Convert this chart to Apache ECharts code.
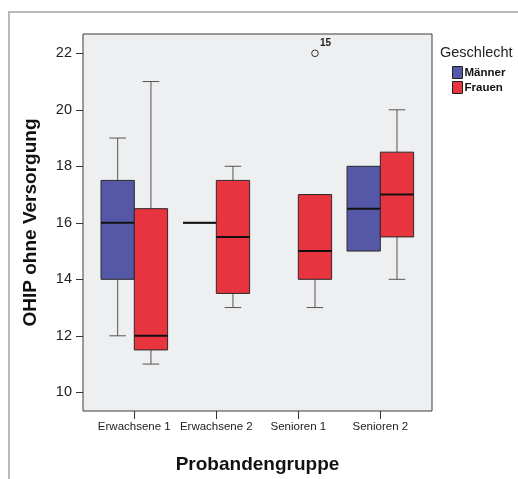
<!DOCTYPE html>
<html>
<head>
<meta charset="utf-8">
<script src="https://cdn.jsdelivr.net/npm/echarts@6/dist/echarts.min.js"></script>
<style>
  html, body { margin: 0; padding: 0; background: #fff; }
  #chart { width: 518px; height: 479px; }
</style>
</head>
<body>
<div id="chart"></div>
<script>
const categories = ["Erwachsene 1", "Erwachsene 2", "Senioren 1", "Senioren 2"];
const categoryIndex = [0, 1, 2, 3];
const yTicks = [10, 12, 14, 16, 18, 20, 22];

// [category index, min, Q1, median, Q3, max]
const maennerBoxes = [
  [0, 12, 14, 16, 17.5, 19],
  [1, 16, 16, 16, 16, 16],
  [3, 15, 15, 16.5, 18, 18],
];
const frauenBoxes = [
  [0, 11, 11.5, 12, 16.5, 21],
  [1, 13, 13.5, 15.5, 17.5, 18],
  [2, 13, 14, 15, 17, 17],
  [3, 14, 15.5, 17, 18.5, 20],
];
// [category index, value] + case number
const frauenOutliers = [[2, 22]];
const frauenOutlierCases = ["15"];

const BLUE = "#5558a6";
const RED = "#e7343e";
const FONT = "'Liberation Sans', Arial, sans-serif";

// side: -1 links (Männer), +1 rechts (Frauen)
function boxRenderer(side, fill) {
  return function (params, api) {
    const cat = api.value(0);
    const band = api.size([1, 0])[0];
    const w = band * 0.406;
    const cx = api.coord([cat, 0])[0] + side * w / 2;
    const y = (i) => api.coord([cat, api.value(i)])[1];
    const yMin = y(1), yQ1 = y(2), yMed = y(3), yQ3 = y(4), yMax = y(5);
    const whisker = { stroke: "#555", lineWidth: 1 };
    const children = [];
    if (yQ3 - yMax > 0.5) {
      children.push({ type: "line", shape: { x1: cx, y1: yMax, x2: cx, y2: yQ3 }, style: whisker });
      children.push({ type: "line", shape: { x1: cx - w / 4, y1: yMax, x2: cx + w / 4, y2: yMax }, style: whisker });
    }
    if (yMin - yQ1 > 0.5) {
      children.push({ type: "line", shape: { x1: cx, y1: yQ1, x2: cx, y2: yMin }, style: whisker });
      children.push({ type: "line", shape: { x1: cx - w / 4, y1: yMin, x2: cx + w / 4, y2: yMin }, style: whisker });
    }
    children.push({
      type: "rect",
      shape: { x: cx - w / 2, y: yQ3, width: w, height: yQ1 - yQ3 },
      style: { fill: fill, stroke: "#2a2a2a", lineWidth: 1 },
    });
    children.push({
      type: "line",
      shape: { x1: cx - w / 2, y1: yMed, x2: cx + w / 2, y2: yMed },
      style: { stroke: "#111", lineWidth: 2 },
    });
    return { type: "group", children: children };
  };
}

function outlierRenderer(side) {
  return function (params, api) {
    const cat = api.value(0);
    const band = api.size([1, 0])[0];
    const w = band * 0.406;
    const pt = api.coord([cat, api.value(1)]);
    const cx = pt[0] + side * w / 2;
    return {
      type: "group",
      children: [
        { type: "circle", shape: { cx: cx, cy: pt[1], r: 3.3 }, style: { fill: "none", stroke: "#333", lineWidth: 1 } },
        {
          type: "text", x: cx + 5, y: pt[1] - 15,
          style: { text: frauenOutlierCases[params.dataIndex], fill: "#222", font: "bold 10px " + FONT },
        },
      ],
    };
  };
}

const chart = echarts.init(document.getElementById("chart"), null, { renderer: "canvas" });

chart.setOption({
  animation: false,
  backgroundColor: "#fff",
  textStyle: { fontFamily: FONT },
  graphic: [{
    type: "rect", z: -10, silent: true,
    shape: { x: 9, y: 12, width: 600, height: 600 },
    style: { fill: "none", stroke: "#b9b9b9", lineWidth: 2 },
  }],
  title: {
    text: "Geschlecht", left: 435, top: 40,
    textStyle: { fontSize: 14.5, fontWeight: "normal", color: "#222", fontFamily: FONT },
  },
  legend: {
    orient: "vertical", left: 447, top: 61,
    itemWidth: 10, itemHeight: 12, itemGap: 2,
    textStyle: { fontSize: 11.5, fontWeight: "bold", color: "#111", padding: [0, 0, 0, -3] },
    data: [
      { name: "Männer", icon: "rect", itemStyle: { color: BLUE, borderColor: "#222", borderWidth: 1 } },
      { name: "Frauen", icon: "rect", itemStyle: { color: RED, borderColor: "#222", borderWidth: 1 } },
    ],
  },
  grid: {
    left: 83, top: 34, width: 349, height: 377,
    show: true, backgroundColor: "#eeeff1", borderColor: "#3a3a3a", borderWidth: 1,
  },
  xAxis: {
    type: "value", min: -0.6256, max: 3.630,
    name: "Probandengruppe", nameLocation: "middle", nameGap: 44,
    nameTextStyle: { fontSize: 19, fontWeight: "bold", color: "#111" },
    axisLine: { show: false, onZero: false },
    splitLine: { show: false },
    axisTick: { show: true, customValues: categoryIndex, length: 8, lineStyle: { color: "#333" } },
    axisLabel: {
      customValues: categoryIndex, margin: 10,
      fontSize: 11.5, color: "#222",
      formatter: (v) => categories[Math.round(v)],
    },
  },
  yAxis: {
    type: "value", min: 9.338, max: 22.683,
    name: "OHIP ohne Versorgung", nameLocation: "middle", nameGap: 43, nameRotate: 90,
    nameTextStyle: { fontSize: 19, fontWeight: "bold", color: "#111" },
    axisLine: { show: false, onZero: false },
    splitLine: { show: false },
    axisTick: { show: true, customValues: yTicks, length: 7, lineStyle: { color: "#333" } },
    axisLabel: { customValues: yTicks, margin: 11, fontSize: 14.5, color: "#222" },
  },
  series: [
    {
      name: "Männer", type: "custom", itemStyle: { color: BLUE },
      encode: { x: 0, y: [1, 2, 3, 4, 5] },
      renderItem: boxRenderer(-1, BLUE), data: maennerBoxes,
    },
    {
      name: "Frauen", type: "custom", itemStyle: { color: RED },
      encode: { x: 0, y: [1, 2, 3, 4, 5] },
      renderItem: boxRenderer(1, RED), data: frauenBoxes,
    },
    {
      name: "Frauen", type: "custom", itemStyle: { color: RED },
      encode: { x: 0, y: 1 },
      renderItem: outlierRenderer(1), data: frauenOutliers,
    },
  ],
});
</script>
</body>
</html>
